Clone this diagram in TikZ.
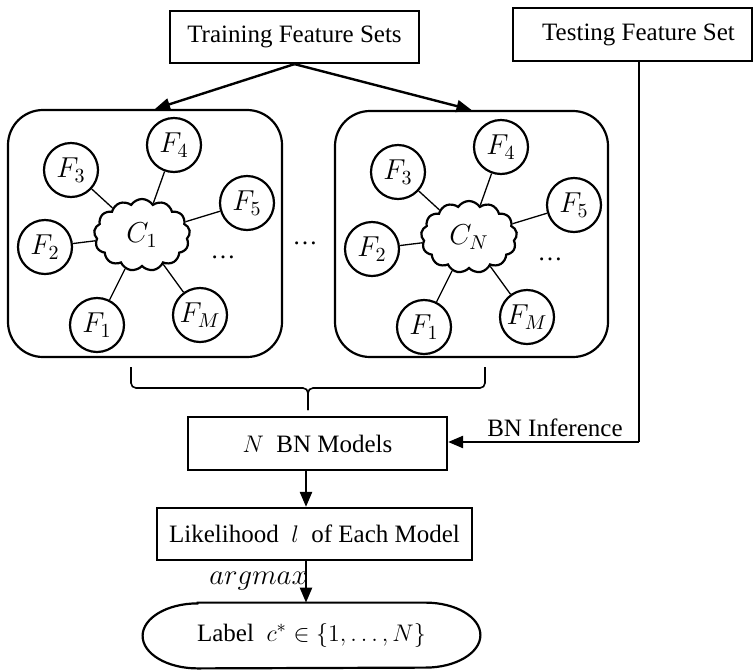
\documentclass[tikz,border=0pt]{standalone}
\usepackage{fontspec}
\setmainfont{Liberation Serif}
\usetikzlibrary{shapes.symbols,arrows.meta}
\begin{document}
\begin{tikzpicture}[x=0.5pt,y=-0.5pt,
  every node/.style={font=\fontsize{12.5}{15}\selectfont},
  box/.style={draw,line width=1.1pt,rectangle,inner sep=0pt},
  feat/.style={draw,circle,line width=1.1pt,minimum size=27pt,inner sep=0pt,
               font=\fontsize{14.5}{16}\selectfont},
  cls/.style={draw,cloud,cloud puffs=13,cloud puff arc=115,cloud ignores aspect,
              line width=1.1pt,minimum width=48pt,minimum height=36pt,inner sep=0pt,
              font=\fontsize{14.5}{16}\selectfont},
  edge/.style={line width=0.65pt},
  flow/.style={line width=1.2pt,-{Triangle[length=7.5pt,width=6pt]}},
  model/.style={draw,line width=1.1pt,rounded corners=17.5pt,inner sep=0pt}
]
\useasboundingbox (0,0) rectangle (755,670);

% inputs
\node[box,minimum width=124.5pt,minimum height=26pt] (train) at (294.5,37) {Training Feature Sets};
\node[box,minimum width=119.5pt,minimum height=26.5pt] (test) at (632.5,34.5) {\hspace{6pt}Testing Feature Set};

% the two Bayesian network models
\node[model,minimum width=137pt,minimum height=123.5pt] (m1) at (145,233.5) {};
\node[model,minimum width=136.5pt,minimum height=123pt] (m2) at (471.5,234) {};
\node (gap) at (305,243) {\dots};

\foreach \k/\dx/\dy/\lab in {1/0/0/1, 2/327/2/N}{
  \begin{scope}[shift={(\dx,\dy)}]
    \node[cls] (c\k) at (142,235) {$C_{\lab}$};
    \node[feat] (f3\k) at (71,170) {$F_3$};
    \node[feat] (f4\k) at (174,145) {$F_4$};
    \node[feat] (f5\k) at (247,203) {$F_5$};
    \node[feat] (f2\k) at (45,247) {$F_2$};
    \node[feat] (f1\k) at (97,325) {$F_1$};
    \node[feat] (fM\k) at (200,315) {$F_M$};
    \node (more\k) at (223,257) {\dots};
    \foreach \i in {1,2,3,4,5,M}{
      \draw[edge] (c\k) -- (f\i\k);
    }
  \end{scope}
}

\draw[flow] (train.south) -- ([xshift=5pt]m1.north);
\draw[flow] (train.south) -- (m2.north);

% brace gathering the models
\draw[line width=0.8pt,rounded corners=2.5pt] (131,367) -- (131,388) -- (308,388) -- (308,410);
\draw[line width=0.8pt,rounded corners=2.5pt] (485,367) -- (485,388) -- (308,388) -- (308,410);

% decision chain
\node[box,minimum width=129.5pt,minimum height=26.5pt] (models) at (317.5,443.5) {$N$\ \ BN Models};
\node[box,minimum width=157.5pt,minimum height=26pt] (lik) at (314.5,534) {Likelihood\ \ $l$\ \ of Each Model};
\node[minimum width=168.5pt,minimum height=32.5pt,inner sep=0pt] (lbl) at (311.5,635.5) {Label\ \ $c^{*}\in\{1,\ldots,N\}$};
\draw[line width=1.1pt]
  ([xshift=27.5pt]lbl.north west) -- ([xshift=-27.5pt]lbl.north east)
  arc[start angle=90,end angle=-90,x radius=27.5pt,y radius=16.25pt]
  -- ([xshift=27.5pt]lbl.south west)
  arc[start angle=270,end angle=90,x radius=27.5pt,y radius=16.25pt] -- cycle;

\coordinate (spine) at (306,0);
\draw[flow] (models.south -| spine) -- (lik.north -| spine);
\draw[flow] (lik.south -| spine) -- (lbl.north -| spine);
\node[anchor=east,inner sep=0pt,font=\fontsize{14}{16}\selectfont] (am) at (308,581) {$argmax$};

% inference path from the testing set
\coordinate (bend) at (639,442);
\draw[line width=1.1pt] (test.south -| bend) -- (bend);
\draw[flow] (bend) -- (models.east |- bend);
\node[anchor=base east,inner sep=0pt] (inf) at (623,436) {BN Inference};
\end{tikzpicture}
\end{document}
